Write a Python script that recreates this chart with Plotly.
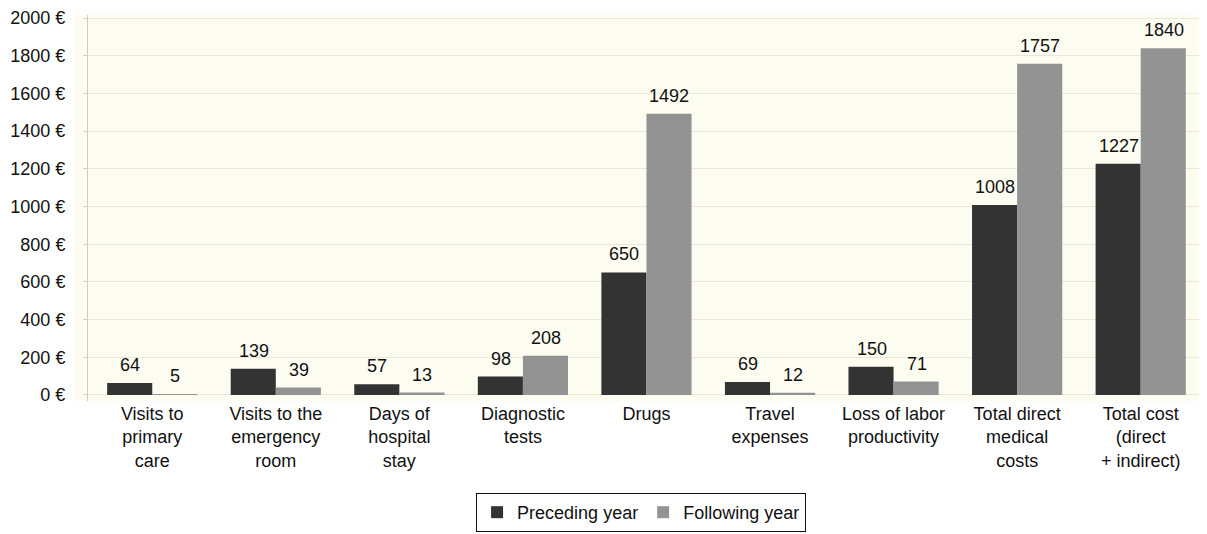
import plotly.graph_objects as go

categories = [
    "Visits to<br>primary<br>care",
    "Visits to the<br>emergency<br>room",
    "Days of<br>hospital<br>stay",
    "Diagnostic<br>tests",
    "Drugs",
    "Travel<br>expenses",
    "Loss of labor<br>productivity",
    "Total direct<br>medical<br>costs",
    "Total cost<br>(direct<br>+ indirect)",
]
preceding = [64, 139, 57, 98, 650, 69, 150, 1008, 1227]
following = [5, 39, 13, 208, 1492, 12, 71, 1757, 1840]
y_ticks = list(range(0, 2001, 200))
y_tick_text = [f"{v} €" for v in y_ticks]

font = "Liberation Sans, Arial, sans-serif"
fs = 18

fig = go.Figure()
fig.add_trace(go.Bar(
    x=categories, y=preceding, name="Preceding year",
    marker=dict(color="#333333", line=dict(width=0)),
))
fig.add_trace(go.Bar(
    x=categories, y=following, name="Following year",
    marker=dict(color="#939393", line=dict(width=0)),
))

annotations = []
for cat, v in zip(categories, preceding):
    annotations.append(dict(x=cat, y=v, text=str(v), showarrow=False, xshift=-22,
                            yshift=6, yanchor="bottom", font=dict(size=fs, color="#111111")))
for cat, v in zip(categories, following):
    annotations.append(dict(x=cat, y=v, text=str(v), showarrow=False, xshift=23,
                            yshift=6, yanchor="bottom", font=dict(size=fs, color="#111111")))

fig.update_layout(
    width=1207, height=534,
    margin=dict(l=80, r=15, t=7, b=141, autoexpand=False),
    paper_bgcolor="white",
    plot_bgcolor="#fdfcf1",
    barmode="group",
    bargap=0.27, bargroupgap=0,
    font=dict(family=font, size=fs, color="#111111"),
    showlegend=True,
    annotations=annotations,
    legend=dict(
        orientation="h", xref="container", yref="container",
        x=0.5245, xanchor="center", y=0.0918, yanchor="top",
        bordercolor="#111111", borderwidth=1,
        font=dict(size=fs, family=font), traceorder="normal",
        itemwidth=30, tracegroupgap=0,
    ),
    shapes=[dict(type="rect", xref="paper", yref="paper", x0=-0.012, x1=0, y0=0, y1=1.0,
                 fillcolor="#fdfcf1", line=dict(width=0), layer="below")],
)
fig.update_xaxes(
    range=[-0.52, 8.48], showgrid=False, ticks="", tickfont=dict(size=fs),
    showline=False, zeroline=False,
)
fig.update_yaxes(
    range=[-32, 2016], tickvals=y_ticks, ticktext=y_tick_text,
    showgrid=True, gridcolor="#ebe8d9", gridwidth=1,
    showline=True, linecolor="#cfcdc4", linewidth=1,
    ticks="outside", ticklen=4, tickcolor="#cfcdc4",
    zeroline=False, tickfont=dict(size=fs), ticklabelstandoff=14,
    ticklabeloverflow="allow",
)
fig.write_html("out.html")
